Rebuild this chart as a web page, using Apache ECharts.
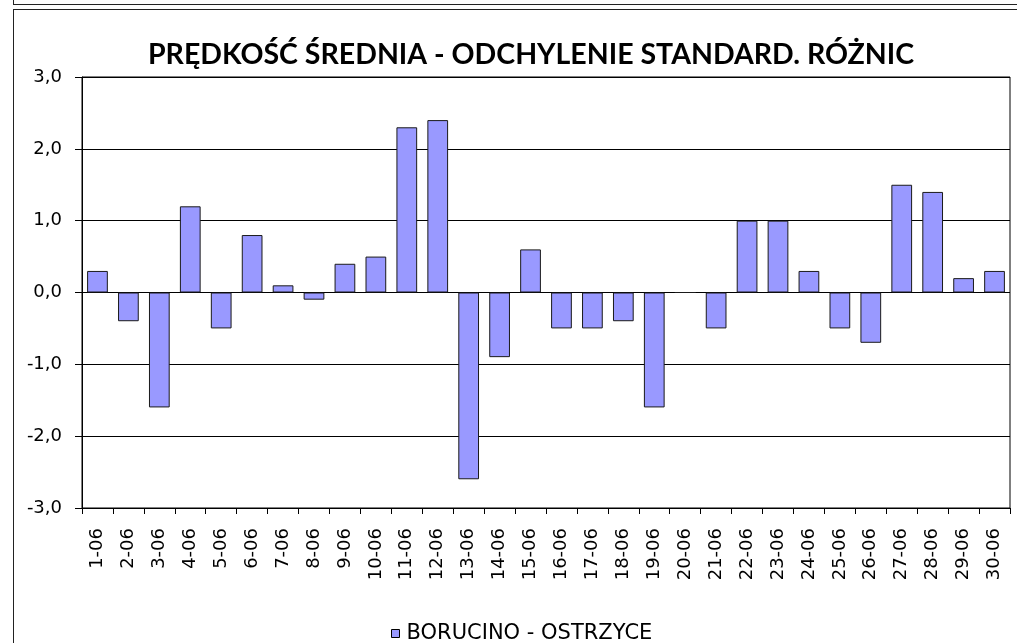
<!DOCTYPE html>
<html>
<head>
<meta charset="utf-8">
<script src="https://cdn.jsdelivr.net/npm/echarts@6/dist/echarts.min.js"></script>
<style>
  body { margin: 0; background: #fff; }
  #wrap { position: relative; width: 1017px; height: 643px; overflow: hidden; }
  .frame { position: absolute; box-sizing: border-box; border: 1px solid #222; }
  #chart { position: absolute; left: 0; top: 0; width: 1017px; height: 643px; }
</style>
</head>
<body>
<div id="wrap">
  <div class="frame" style="left:13px; top:-20px; width:1100px; height:25px;"></div>
  <div class="frame" style="left:13px; top:9px; width:1100px; height:700px;"></div>
  <div id="chart"></div>
</div>
<script>
// dni czerwca
const days = ['1-06', '2-06', '3-06', '4-06', '5-06', '6-06', '7-06', '8-06', '9-06', '10-06',
  '11-06', '12-06', '13-06', '14-06', '15-06', '16-06', '17-06', '18-06', '19-06', '20-06',
  '21-06', '22-06', '23-06', '24-06', '25-06', '26-06', '27-06', '28-06', '29-06', '30-06'];
// odchylenie standardowe różnic
const diffs = [0.3, -0.4, -1.6, 1.2, -0.5, 0.8, 0.1, -0.1, 0.4, 0.5,
  2.3, 2.4, -2.6, -0.9, 0.6, -0.5, -0.5, -0.4, -1.6, 0,
  -0.5, 1.0, 1.0, 0.3, -0.5, -0.7, 1.5, 1.4, 0.2, 0.3];
const seriesName = 'BORUCINO - OSTRZYCE';
const titleText = 'PRĘDKOŚĆ ŚREDNIA - ODCHYLENIE STANDARD. RÓŻNIC';

const chart = echarts.init(document.getElementById('chart'));
const labelFont = 'DejaVu Sans';

const option = {
  animation: false,
  title: {
    text: titleText,
    left: 526,
    textAlign: 'center',
    top: 35,
    textStyle: { fontFamily: 'Lato', fontWeight: 'bold', fontSize: 28.5, color: '#000' }
  },
  legend: {
    data: [seriesName],
    left: 386,
    top: 618,
    icon: 'rect',
    itemWidth: 8,
    itemHeight: 8,
    itemGap: 5,
    itemStyle: { borderColor: '#000', borderWidth: 1 },
    textStyle: { fontFamily: labelFont, fontSize: 21, color: '#000', padding: [0, 0, 0, 2] }
  },
  grid: {
    left: 82, right: 7, top: 77, bottom: 135,
    show: true, borderColor: '#000', borderWidth: 1
  },
  xAxis: {
    type: 'category',
    data: days,
    axisLine: { onZero: false, lineStyle: { color: '#000', width: 1 } },
    axisTick: { show: true, length: 6, lineStyle: { color: '#000' } },
    axisLabel: {
      rotate: 90, margin: 20, interval: 0,
      fontFamily: labelFont, fontSize: 18, color: '#000'
    }
  },
  yAxis: {
    type: 'value',
    min: -3, max: 3, interval: 1,
    axisLine: { show: true, lineStyle: { color: '#000', width: 1 } },
    axisTick: { show: true, length: 7, lineStyle: { color: '#000' } },
    splitLine: { lineStyle: { color: '#000', width: 1 } },
    axisLabel: {
      margin: 20,
      fontFamily: labelFont, fontSize: 18, color: '#000',
      formatter: v => v.toFixed(1).replace('.', ',')
    }
  },
  series: [{
    name: seriesName,
    type: 'bar',
    data: diffs,
    barCategoryGap: '33%',
    itemStyle: { color: '#9999FF', borderColor: '#1a1a1a', borderWidth: 1 }
  }]
};
chart.setOption(option);
</script>
</body>
</html>
